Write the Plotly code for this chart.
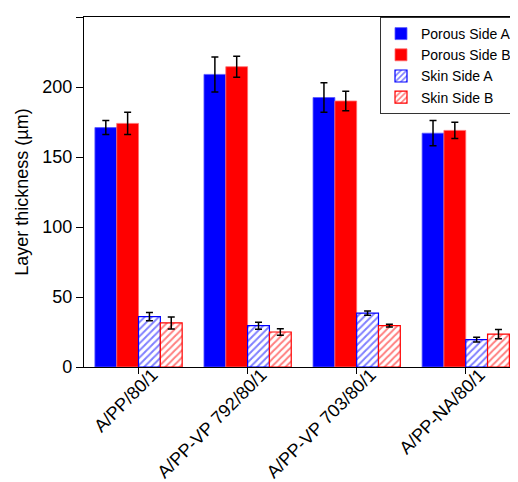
import plotly.graph_objects as go

categories = ["A/PP/80/1", "A/PP-VP 792/80/1", "A/PP-VP 703/80/1", "A/PP-NA/80/1"]

porous_a = [171, 209, 192.5, 167]
porous_a_err = [5, 12.5, 10.5, 9]
porous_b = [174, 214.5, 190, 169]
porous_b_err = [8, 7.5, 7, 5.8]
skin_a = [36, 29.5, 38.5, 19.5]
skin_a_err = [3, 2.5, 1.5, 1.7]
skin_b = [31.5, 25, 29.5, 23.5]
skin_b_err = [4.3, 2.3, 1, 3.3]

BLUE = "#0000FF"
RED = "#FF0000"

def err(vals):
    return dict(type="data", array=vals, visible=True, color="black", thickness=1.5, width=3.5)

fig = go.Figure()
fig.add_trace(go.Bar(name="Porous Side A", x=categories, y=porous_a, error_y=err(porous_a_err),
                     marker=dict(color=BLUE, line=dict(color="rgba(90,90,255,0.8)", width=1))))
fig.add_trace(go.Bar(name="Porous Side B", x=categories, y=porous_b, error_y=err(porous_b_err),
                     marker=dict(color=RED, line=dict(color="rgba(255,110,110,0.8)", width=1))))
fig.add_trace(go.Bar(name="Skin Side A", x=categories, y=skin_a, error_y=err(skin_a_err),
                     marker=dict(color="white", line=dict(color=BLUE, width=1.2),
                                 pattern=dict(shape="/", fgcolor=BLUE, bgcolor="white", size=5, solidity=0.4))))
fig.add_trace(go.Bar(name="Skin Side B", x=categories, y=skin_b, error_y=err(skin_b_err),
                     marker=dict(color="white", line=dict(color=RED, width=1.2),
                                 pattern=dict(shape="/", fgcolor=RED, bgcolor="white", size=5, solidity=0.4))))

fig.update_layout(
    width=510, height=474,
    barmode="group", bargap=0.2, bargroupgap=0,
    plot_bgcolor="white", paper_bgcolor="white",
    font=dict(family="Liberation Sans, Arial, sans-serif", color="black", size=18),
    margin=dict(l=76, r=1, t=9, b=115, autoexpand=False),
    showlegend=True,
    legend=dict(x=1, y=1, xanchor="right", yanchor="top", bgcolor="white",
                bordercolor="#333", borderwidth=1, font=dict(size=14),
                tracegroupgap=0, itemwidth=30),
    xaxis=dict(range=[-0.5, 3.47], showline=True, linecolor="black", linewidth=1.2, mirror=True,
               ticks="outside", ticklen=6, tickcolor="black", tickangle=-45, automargin=False,
               ticklabelshift=14, ticklabelstandoff=-17,
               showgrid=False, tickfont=dict(size=18)),
    yaxis=dict(range=[0, 250], dtick=50, showline=True, linecolor="black", linewidth=1.2,
               ticks="outside", ticklen=7, tickcolor="black", showgrid=False, zeroline=False,
               tickfont=dict(size=18), automargin=False,
               title=dict(text="Layer thickness (µm)", font=dict(size=18), standoff=8)),
)

fig.write_html("out.html")
